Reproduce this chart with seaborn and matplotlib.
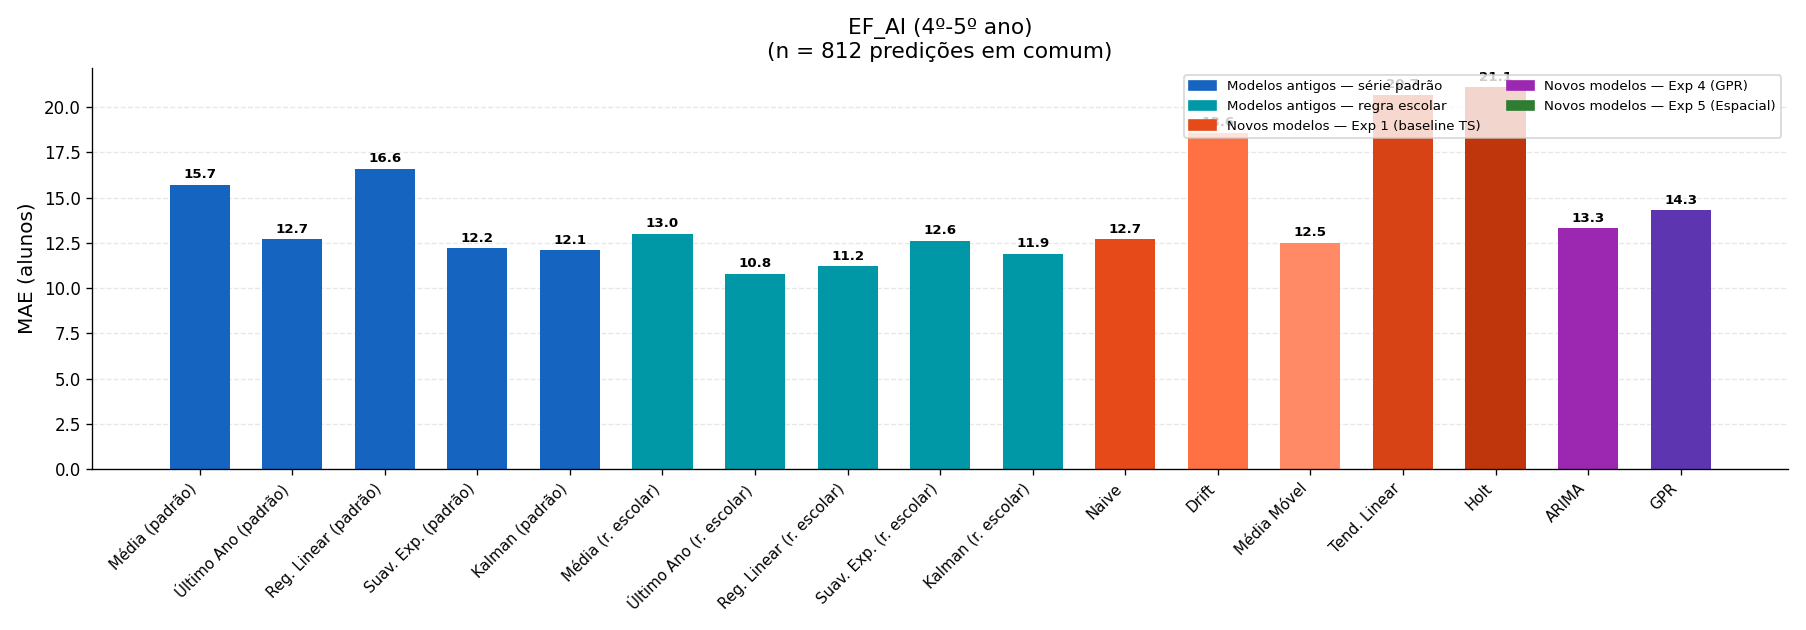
"""MAE por modelo — EF_AI (4º-5º ano), modelos antigos vs novos"""

import numpy as np
import pandas as pd
import matplotlib
matplotlib.use('Agg')
import matplotlib.pyplot as plt
import seaborn as sns
from matplotlib.patches import Patch


modelos = ['Média (padrão)', 'Último Ano (padrão)', 'Reg. Linear (padrão)',
           'Suav. Exp. (padrão)', 'Kalman (padrão)',
           'Média (r. escolar)', 'Último Ano (r. escolar)', 'Reg. Linear (r. escolar)',
           'Suav. Exp. (r. escolar)', 'Kalman (r. escolar)',
           'Naive', 'Drift', 'Média Móvel', 'Tend. Linear', 'Holt',
           'ARIMA', 'GPR']
mae = [15.7, 12.7, 16.6, 12.2, 12.1,
       13.0, 10.8, 11.2, 12.6, 11.9,
       12.7, 18.6, 12.5, 20.7, 21.1,
       13.3, 14.3]
cores = ['#1565C0'] * 5 + ['#0097A7'] * 5 + \
        ['#E64A19', '#FF7043', '#FF8A65', '#D84315', '#BF360C'] + \
        ['#9C27B0', '#5E35B1']

grupos = ['Modelos antigos — série padrão', 'Modelos antigos — regra escolar',
          'Novos modelos — Exp 1 (baseline TS)', 'Novos modelos — Exp 4 (GPR)',
          'Novos modelos — Exp 5 (Espacial)']
cores_grupos = ['#1565C0', '#0097A7', '#E64A19', '#9C27B0', '#2E7D32']


df = pd.DataFrame({'modelo': modelos, 'mae': mae})

fig, ax = plt.subplots(figsize=(15.05, 5.25), dpi=120)
sns.barplot(data=df, x='modelo', y='mae', hue='modelo',
            palette=dict(zip(modelos, cores)), width=0.65,
            saturation=1, legend=False, ax=ax)

for p in ax.patches:
    h = p.get_height()
    ax.text(p.get_x() + p.get_width() / 2, h + 0.2, f'{h:.1f}',
            ha='center', va='bottom', fontsize=8, fontweight='bold')

ax.set_xlim(-1.16, len(modelos) - 1 + 1.16)
ax.set_ylim(0, max(mae) * 1.05)
ax.set_xlabel('')
ax.set_ylabel('MAE (alunos)', fontsize=12)
ax.set_title('EF_AI (4º-5º ano)\n(n = 812 predições em comum)', fontsize=13)
plt.xticks(rotation=45, ha='right', fontsize=9)
ax.tick_params(axis='y', labelsize=10)
ax.grid(axis='y', linestyle='--', alpha=0.3)
ax.set_axisbelow(True)
sns.despine(ax=ax)

handles = [Patch(color=c, label=g) for g, c in zip(grupos, cores_grupos)]
ax.legend(handles=handles, loc='upper right', ncol=2, fontsize=8)

plt.tight_layout()
plt.savefig('out.png', dpi=120)
